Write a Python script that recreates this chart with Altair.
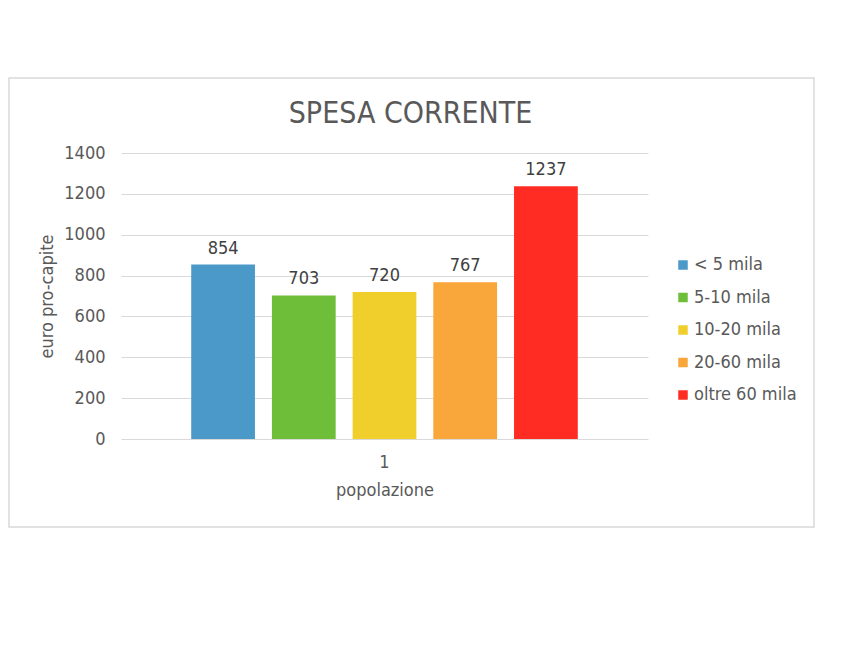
import altair as alt
import pandas as pd

# ---- data ----
categories = ["< 5 mila", "5-10 mila", "10-20 mila", "20-60 mila", "oltre 60 mila"]
values = [854, 703, 720, 767, 1237]
group = ["1", "1", "1", "1", "1"]
colors = ["#4A99C9", "#6EBE3A", "#F0CF2D", "#F9A63B", "#FF2C24"]
y_ticks = [0, 200, 400, 600, 800, 1000, 1200, 1400]

df = pd.DataFrame({"popolazione": group, "fascia": categories, "spesa": values})

FONT = "Liberation Sans Narrow, Arial Narrow, DejaVu Sans Condensed, sans-serif"
TXT = "#595959"

x_enc = alt.X(
    "popolazione:N",
    title="popolazione",
    scale=alt.Scale(paddingInner=0, paddingOuter=0.153),
    axis=alt.Axis(labelAngle=0, domain=False, ticks=False, labelPadding=14,
                  titlePadding=10, labelFontSize=18, titleFontSize=18,
                  labelColor=TXT, titleColor=TXT, titleFontWeight="normal",
                  labelFont=FONT, titleFont=FONT, grid=False),
)
xo_enc = alt.XOffset("fascia:N", sort=categories,
                     scale=alt.Scale(paddingInner=0.21, paddingOuter=0.105))
y_enc = alt.Y(
    "spesa:Q",
    title="euro pro-capite",
    scale=alt.Scale(domain=[0, 1400], nice=False),
    axis=alt.Axis(values=y_ticks, format="d", domain=False, ticks=False,
                  labelPadding=16, titlePadding=7, labelFontSize=18,
                  titleFontSize=18, labelColor=TXT, titleColor=TXT,
                  titleFontWeight="normal", labelFont=FONT, titleFont=FONT,
                  gridColor="#d9d9d9", gridWidth=1.2),
)
color_enc = alt.Color(
    "fascia:N", sort=categories,
    scale=alt.Scale(domain=categories, range=colors),
    legend=alt.Legend(title=None, orient="none", legendX=553, legendY=103,
                      symbolType="square", symbolSize=90, symbolStrokeWidth=0,
                      labelFontSize=18, labelColor=TXT, labelFont=FONT,
                      rowPadding=14.5, labelOffset=2),
)

bars = alt.Chart(df).mark_bar().encode(x=x_enc, xOffset=xo_enc, y=y_enc, color=color_enc)

labels = alt.Chart(df).mark_text(
    baseline="alphabetic", dy=-11, fontSize=18, color="#404040", font=FONT
).encode(x=x_enc, xOffset=xo_enc, y=y_enc, text=alt.Text("spesa:Q"))

border = alt.Chart(pd.DataFrame({"b": [0]})).mark_rect(
    fill=None, stroke="#d9d9d9", strokeWidth=1.5
).encode(x=alt.value(-112), x2=alt.value(693), y=alt.value(-75), y2=alt.value(374))

chart = alt.layer(border, bars, labels).properties(
    width=527,
    height=286,
    title=alt.TitleParams("SPESA CORRENTE", fontSize=30, font=FONT, color=TXT,
                          fontWeight="normal", anchor="middle", offset=-52, dx=26),
    autosize=alt.AutoSizeParams(type="none"),
    padding={"left": 121, "top": 153, "right": 220, "bottom": 222},
).configure(background="white", view=alt.ViewConfig(stroke="transparent", strokeWidth=0))

chart.save("out.html", embed_options={"renderer": "svg", "actions": False})
